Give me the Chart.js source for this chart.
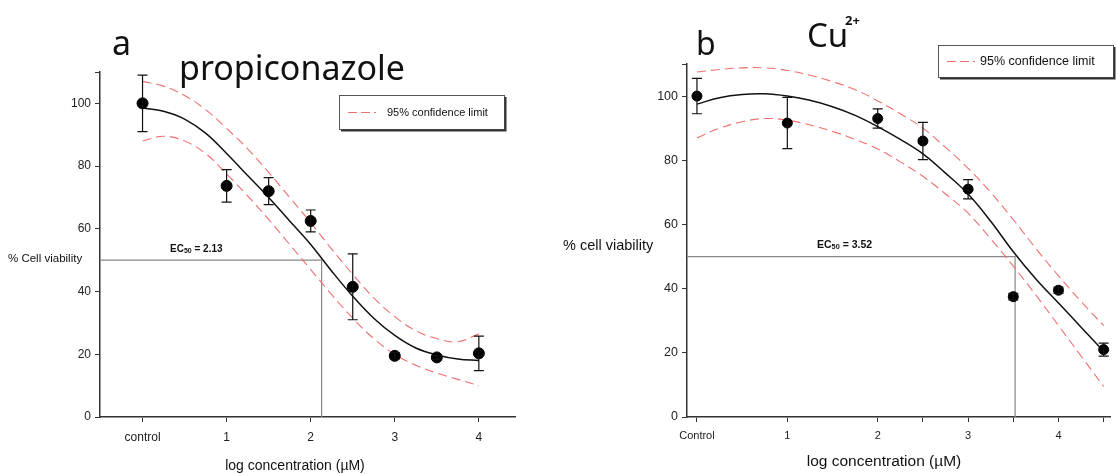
<!DOCTYPE html>
<html>
<head>
<meta charset="utf-8">
<script src="https://cdn.jsdelivr.net/npm/chart.js@4.4.0/dist/chart.umd.min.js"></script>
<style>
body { margin: 0; background: #fff; width: 1116px; height: 474px; overflow: hidden; position: relative; }
.panel { position: absolute; top: 0; height: 474px; }
#wrapA { left: 0; width: 550px; }
#wrapB { left: 550px; width: 566px; }
</style>
</head>
<body>
<div class="panel" id="wrapA"><canvas id="chartA" width="550" height="474"></canvas></div>
<div class="panel" id="wrapB"><canvas id="chartB" width="566" height="474"></canvas></div>
<script>
// panel a - propiconazole
var aDoseX = [0, 1, 1.5, 2, 2.5, 3, 3.5, 4];
var aViability = [100, 73.7, 72, 62.5, 41.5, 19.5, 19, 20.3];
var aError = [9, 5.2, 4.3, 3.5, 10.5, 1, 0.6, 5.5];
var aFitX = [0, 0.25, 0.5, 0.75, 1, 1.25, 1.5, 1.75, 2, 2.25, 2.5, 2.75, 3, 3.25, 3.5, 3.75, 4];
var aFit = [98.5, 97.5, 95, 90.5, 84, 77, 70, 62.5, 55, 46.5, 38.5, 31.5, 26, 22, 19.8, 18.5, 18];
var aUpper = [107, 105.5, 102.5, 98, 92, 85.5, 78, 70, 62, 53.5, 45.5, 38, 32, 27.5, 25, 24, 26.5];
var aLower = [88, 89.5, 88, 84, 77.5, 70.5, 63, 55, 47, 39, 31.5, 25, 20, 16.5, 14, 12, 10];
var aEC50 = 2.13;
var aTickVals = [0, 1, 2, 3, 4];
var aTickLabels = ['control', '1', '2', '3', '4'];

// panel b - Cu2+
var bDoseX = [0, 1, 2, 2.5, 3, 3.5, 4, 4.5];
var bViability = [100, 91.6, 93, 86, 71, 37.5, 39.5, 21];
var bError = [5.5, 8, 3, 5.8, 3, 1, 1, 2];
var bFitX = [0, 0.25, 0.5, 0.75, 1, 1.25, 1.5, 1.75, 2, 2.25, 2.5, 2.75, 3, 3.25, 3.5, 3.75, 4, 4.25, 4.5];
var bFit = [97.5, 99.5, 100.5, 100.7, 100, 98.7, 96.7, 94, 90.5, 86.5, 82, 76, 69.5, 61, 51.5, 43, 35.5, 28, 20.5];
var bUpper = [107.5, 108.3, 108.8, 108.8, 108, 106.5, 104.5, 102, 98.5, 94.5, 90, 84, 77.5, 70, 61.5, 52.5, 44, 36, 28.5];
var bLower = [87, 90, 92, 93, 92.5, 91, 89, 86.5, 83.5, 79.5, 75, 69.5, 63.5, 55.5, 47, 38, 28.5, 19, 9.5];
var bEC50 = 3.52;
var bTickVals = [0, 1, 2, 2.5, 3, 3.5, 4, 4.5];
var bTickLabels = ['Control', '1', '2', '', '3', '', '4', ''];

var bandColor = '#f07070';
Chart.defaults.font.family = '"Liberation Sans", Arial, sans-serif';
Chart.defaults.color = '#222';

function pts(xs, ys) {
    return xs.map(function (x, i) { return { x: x, y: ys[i] }; });
}

// error bars drawn from the point arrays
var errorBars = {
    id: 'errorBars',
    afterDatasetsDraw: function (chart, args, o) {
        var ctx = chart.ctx, sx = chart.scales.x, sy = chart.scales.y;
        ctx.save();
        ctx.strokeStyle = '#111';
        ctx.lineWidth = 1.2;
        o.x.forEach(function (v, i) {
            var px = sx.getPixelForValue(v);
            var top = sy.getPixelForValue(o.y[i] + o.err[i]);
            var bot = sy.getPixelForValue(o.y[i] - o.err[i]);
            ctx.beginPath();
            ctx.moveTo(px, top); ctx.lineTo(px, bot);
            ctx.moveTo(px - 5, top); ctx.lineTo(px + 5, top);
            ctx.moveTo(px - 5, bot); ctx.lineTo(px + 5, bot);
            ctx.stroke();
        });
        ctx.restore();
    }
};

// titles, labels and legend box
var decor = {
    id: 'decor',
    afterDraw: function (chart, args, o) {
        var ctx = chart.ctx;
        ctx.save();
        o.texts.forEach(function (t) {
            ctx.font = t.font;
            ctx.fillStyle = '#111';
            ctx.textAlign = t.align || 'left';
            ctx.textBaseline = t.base || 'alphabetic';
            ctx.fillText(t.text, t.x, t.y);
        });
        // EC50 label with subscript
        var e = o.ec;
        ctx.textAlign = 'left';
        ctx.textBaseline = 'middle';
        ctx.font = 'bold ' + e.size + 'px "Liberation Sans", Arial';
        ctx.fillText('EC', e.x, e.y);
        var w = ctx.measureText('EC').width;
        ctx.font = 'bold ' + (e.size * 0.7) + 'px "Liberation Sans", Arial';
        ctx.fillText('50', e.x + w, e.y + 2);
        var w2 = ctx.measureText('50').width;
        ctx.font = 'bold ' + e.size + 'px "Liberation Sans", Arial';
        ctx.fillText(' = ' + e.val, e.x + w + w2, e.y);
        // legend
        var b = o.legend;
        ctx.strokeStyle = '#555';
        ctx.lineWidth = 1;
        ctx.strokeRect(b.x + 0.5, b.y + 0.5, b.w, b.h);
        ctx.strokeStyle = '#333';
        ctx.lineWidth = 2;
        ctx.beginPath();
        ctx.moveTo(b.x + b.w + 1.5, b.y + 2); ctx.lineTo(b.x + b.w + 1.5, b.y + b.h + 1.5);
        ctx.lineTo(b.x + 2, b.y + b.h + 1.5);
        ctx.stroke();
        ctx.strokeStyle = bandColor;
        ctx.lineWidth = 1.2;
        ctx.setLineDash([9, 4]);
        ctx.beginPath();
        ctx.moveTo(b.x + 9, b.y + b.h / 2 + 0.5);
        ctx.lineTo(b.x + 37, b.y + b.h / 2 + 0.5);
        ctx.stroke();
        ctx.setLineDash([]);
        ctx.fillStyle = '#111';
        ctx.font = b.size + 'px "Liberation Sans", Arial';
        ctx.textBaseline = 'middle';
        ctx.fillText('95% confidence limit', b.tx, b.y + b.h / 2 + 1);
        ctx.restore();
    }
};

function makeChart(id, cfg) {
    var datasets = [
        { data: pts(cfg.doseX, cfg.viab), showLine: false, pointRadius: cfg.r, pointBackgroundColor: '#000', pointBorderColor: '#000' },
        { data: pts(cfg.fitX, cfg.fit), showLine: true, pointRadius: 0, borderColor: '#111', borderWidth: 1.5, tension: 0.4 },
        { data: pts(cfg.fitX, cfg.upper), showLine: true, pointRadius: 0, borderColor: bandColor, borderWidth: 1.1, borderDash: [9, 5], tension: 0.4 },
        { data: pts(cfg.fitX, cfg.lower), showLine: true, pointRadius: 0, borderColor: bandColor, borderWidth: 1.1, borderDash: [9, 5], tension: 0.4 },
        { data: [{ x: cfg.xmin, y: 50 }, { x: cfg.ec50, y: 50 }, { x: cfg.ec50, y: 0 }], showLine: true, pointRadius: 0, borderColor: '#888', borderWidth: 1.2, tension: 0 }
    ];
    return new Chart(document.getElementById(id), {
        type: 'scatter',
        data: { datasets: datasets },
        options: {
            responsive: false,
            animation: false,
            devicePixelRatio: 1,
            layout: { padding: { left: 0, right: cfg.padRight, top: cfg.padTop, bottom: 0 } },
            plugins: {
                legend: { display: false },
                tooltip: { enabled: false },
                errorBars: { x: cfg.doseX, y: cfg.viab, err: cfg.err },
                decor: cfg.decor
            },
            scales: {
                x: {
                    type: 'linear', min: cfg.xmin, max: cfg.xmax,
                    border: { color: '#333', width: 1.5 },
                    grid: { drawOnChartArea: false, drawTicks: true, tickLength: 5, color: '#333' },
                    ticks: {
                        padding: cfg.xPad, font: { size: cfg.xFont }, color: '#222', maxRotation: 0, autoSkip: false,
                        callback: function (v) { var k = cfg.tickVals.indexOf(v); return k < 0 ? '' : cfg.tickLabels[k]; }
                    },
                    afterBuildTicks: function (s) { s.ticks = cfg.tickVals.map(function (v) { return { value: v }; }); },
                    afterFit: function (s) { s.height = 57; }
                },
                y: {
                    min: 0, max: 110,
                    border: { color: '#333', width: 1.5 },
                    grid: { drawOnChartArea: false, drawTicks: true, tickLength: 5, color: '#333' },
                    ticks: { stepSize: 20, padding: 4, font: { size: cfg.yFont }, color: '#222',
                        callback: function (v) { return v <= 100 ? v : ''; } },
                    afterFit: function (s) { s.width = cfg.yWidth; }
                }
            }
        },
        plugins: [errorBars, decor]
    });
}

makeChart('chartA', {
    doseX: aDoseX, viab: aViability, err: aError, fitX: aFitX, fit: aFit, upper: aUpper, lower: aLower,
    ec50: aEC50, tickVals: aTickVals, tickLabels: aTickLabels,
    xmin: -0.506, xmax: 4.43, padRight: 35, padTop: 72, yWidth: 100, xPad: 8, xFont: 12, yFont: 12, r: 5.5,
    decor: {
        texts: [
            { text: 'a', x: 112, y: 55, font: '34px "Noto Sans"' },
            { text: 'propiconazole', x: 179, y: 80, font: '34px "Noto Sans"' },
            { text: '% Cell viability', x: 8, y: 259, base: 'middle', font: '11.5px "Liberation Sans"' },
            { text: 'log concentration (\u00b5M)', x: 295, y: 466, align: 'center', base: 'middle', font: '14px "Liberation Sans"' }
        ],
        ec: { x: 170, y: 249, size: 10, val: '2.13' },
        legend: { x: 339, y: 95, w: 165, h: 34, tx: 387, size: 11 }
    }
});

makeChart('chartB', {
    doseX: bDoseX, viab: bViability, err: bError, fitX: bFitX, fit: bFit, upper: bUpper, lower: bLower,
    ec50: bEC50, tickVals: bTickVals, tickLabels: bTickLabels,
    xmin: -0.11, xmax: 4.57, padRight: 1, padTop: 64, yWidth: 137, xPad: 7, xFont: 11, yFont: 12.5, r: 5,
    decor: {
        texts: [
            { text: 'b', x: 146, y: 55, font: '32px "Noto Sans"' },
            { text: 'Cu', x: 257, y: 47, font: '33px "Noto Sans"' },
            { text: '2+', x: 295, y: 25, font: 'bold 13px "Noto Sans"' },
            { text: '% cell viability', x: 13, y: 246, base: 'middle', font: '14.5px "Liberation Sans"' },
            { text: 'log concentration (\u00b5M)', x: 334, y: 462, align: 'center', base: 'middle', font: '15.5px "Liberation Sans"' }
        ],
        ec: { x: 267, y: 245, size: 10.5, val: '3.52' },
        legend: { x: 388, y: 45, w: 175, h: 32, tx: 430, size: 12.5 }
    }
});
</script>
</body>
</html>
